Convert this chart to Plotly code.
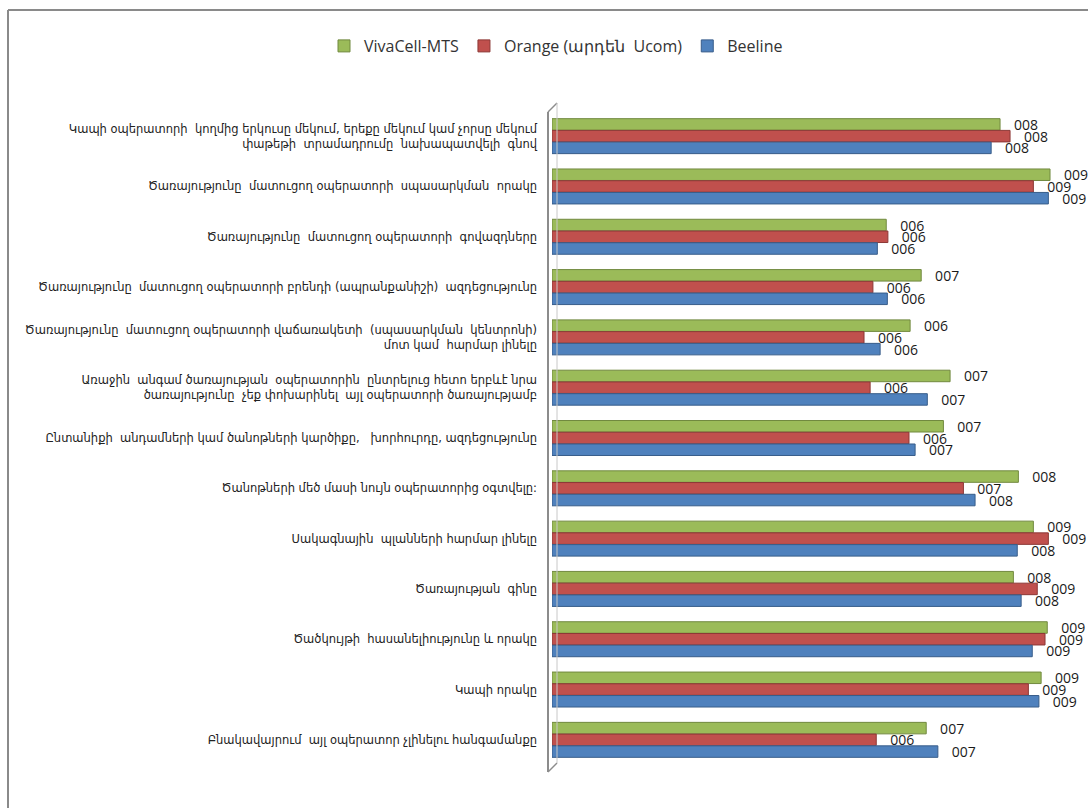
import plotly.graph_objects as go

categories = [
    "Կապի օպերատորի  կողմից երկուսը մեկում, երեքը մեկում կամ չորսը մեկում<br>փաթեթի  տրամադրումը  նախապատվելի  գնով",
    "Ծառայությունը  մատուցող օպերատորի  սպասարկման  որակը",
    "Ծառայությունը  մատուցող օպերատորի  գովազդները",
    "Ծառայությունը  մատուցող օպերատորի բրենդի (ապրանքանիշի)  ազդեցությունը",
    "Ծառայությունը  մատուցող օպերատորի վաճառակետի  (սպասարկման  կենտրոնի)<br>մոտ կամ  հարմար լինելը",
    "Առաջին  անգամ ծառայության  օպերատորին  ընտրելուց հետո երբևէ նրա<br>ծառայությունը  չեք փոխարինել  այլ օպերատորի ծառայությամբ",
    "Ընտանիքի  անդամների կամ ծանոթների կարծիքը,   խորհուրդը, ազդեցությունը",
    "Ծանոթների մեծ մասի նույն օպերատորից օգտվելը:",
    "Սակագնային  պլանների հարմար լինելը",
    "Ծառայության  գինը",
    "Ծածկույթի  հասանելիությունը և որակը",
    "Կապի որակը",
    "Բնակավայրում  այլ օպերատոր չլինելու հանգամանքը",
]

vivacell = [8.07, 8.97, 6.02, 6.65, 6.45, 7.17, 7.05, 8.40, 8.67, 8.31, 8.92, 8.81, 6.74]
orange   = [8.25, 8.67, 6.05, 5.78, 5.62, 5.73, 6.43, 7.41, 8.94, 8.74, 8.88, 8.58, 5.84]
beeline  = [7.91, 8.94, 5.86, 6.04, 5.91, 6.76, 6.54, 7.62, 8.38, 8.45, 8.65, 8.77, 6.95]

series_names = ["VivaCell-MTS", "Orange (արդեն  Ucom)", "Beeline"]
colors = ["#9BBB59", "#C0504D", "#4F81BD"]
edge = ["#71893F", "#8C3836", "#385D8A"]

fig = go.Figure()
for name, vals, c, e in zip(series_names, [vivacell, orange, beeline], colors, edge):
    fig.add_trace(go.Bar(
        y=categories, x=vals, name=name, orientation="h",
        marker=dict(color=c, line=dict(color=e, width=1)),
        texttemplate="\u00a0\u00a0\u00a0%{x:03.0f}",
        textposition="outside", constraintext="none", cliponaxis=False,
        textfont=dict(family="Open Sans, Liberation Sans, sans-serif", size=14, color="#1a1a1a"),
        hoverinfo="x+name",
    ))

W, H = 1088, 808
L, R, T, B = 552, 3, 111, 43
pw, ph = W - L - R, H - T - B

def px(x):
    return (x - L) / pw

def py(y):
    return 1 - (y - T) / ph

shapes = [
    # outer chart frame (top and left edges)
    dict(type="line", xref="paper", yref="paper", x0=px(8), x1=px(1090), y0=py(10), y1=py(10),
         line=dict(color="#8a8a8a", width=2)),
    dict(type="line", xref="paper", yref="paper", x0=px(8), x1=px(8), y0=py(10), y1=py(810),
         line=dict(color="#8a8a8a", width=2)),
    # 3D wall of the category axis
    dict(type="line", xref="paper", yref="paper", x0=px(548), x1=px(548), y0=py(112), y1=py(772),
         line=dict(color="#8c8c8c", width=2)),
    dict(type="line", xref="paper", yref="paper", x0=px(548), x1=px(557), y0=py(112), y1=py(103),
         line=dict(color="#8c8c8c", width=1.5)),
    dict(type="line", xref="paper", yref="paper", x0=px(548), x1=px(557), y0=py(772), y1=py(763),
         line=dict(color="#8c8c8c", width=1.5)),
    dict(type="line", xref="paper", yref="paper", x0=px(557), x1=px(557), y0=py(103), y1=py(763),
         line=dict(color="#c8c8c8", width=1)),
]

fig.update_layout(
    width=W, height=H,
    margin=dict(l=L, r=R, t=T, b=B, autoexpand=False),
    barmode="group", bargap=0.3, bargroupgap=0.02,
    plot_bgcolor="white", paper_bgcolor="white",
    font=dict(family="DejaVu Sans, sans-serif", color="#1a1a1a"),
    showlegend=True,
    legend=dict(orientation="h", x=px(556), xanchor="center", y=py(46), yanchor="middle",
                font=dict(family="Open Sans, Liberation Sans, sans-serif", size=16, color="#333"),
                itemwidth=30, tracegroupgap=0, bgcolor="rgba(0,0,0,0)"),
    xaxis=dict(range=[0, 9.6], visible=False, showgrid=False, zeroline=False),
    yaxis=dict(autorange="reversed", showgrid=False, zeroline=False, showline=False,
               ticks="", ticklabelstandoff=14,
               tickfont=dict(family="DejaVu Sans, sans-serif", size=11.5, color="#222")),
    shapes=shapes,
)

fig.write_html("out.html")
